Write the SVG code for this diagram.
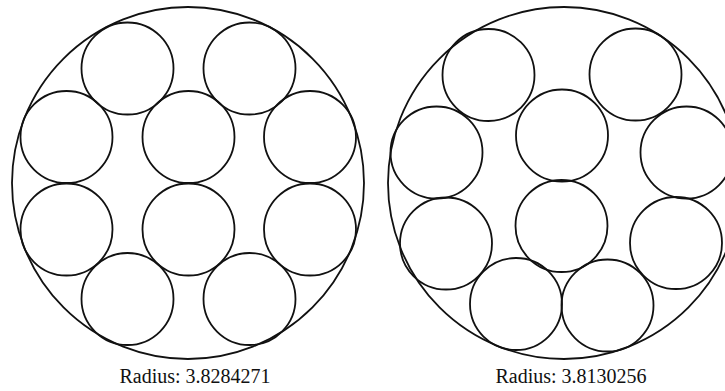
<svg xmlns="http://www.w3.org/2000/svg" width="725" height="391" viewBox="0 0 725 391">
<style>
.c{fill:none;stroke:#111;stroke-width:1.8}
.t{font-family:"Liberation Serif","DejaVu Serif",serif;font-size:20px;fill:#111;text-anchor:middle}
</style>
<rect width="725" height="391" fill="#fff"/>
<g id="packing-left">
<circle class="c" cx="188" cy="183" r="176"/>
<circle class="c" cx="127.5" cy="68.5" r="46"/>
<circle class="c" cx="249.5" cy="68.5" r="46"/>
<circle class="c" cx="66.5" cy="137" r="46"/>
<circle class="c" cx="188.5" cy="137" r="46"/>
<circle class="c" cx="310" cy="137" r="46"/>
<circle class="c" cx="66.5" cy="229.5" r="46"/>
<circle class="c" cx="188.5" cy="229.5" r="46"/>
<circle class="c" cx="310" cy="229.5" r="46"/>
<circle class="c" cx="127.5" cy="299" r="46"/>
<circle class="c" cx="249.5" cy="299" r="46"/>
<text class="t" x="195" y="383">Radius: 3.8284271</text>
</g>
<g id="packing-right">
<circle class="c" cx="564" cy="183" r="176"/>
<circle class="c" cx="488.5" cy="75" r="46"/>
<circle class="c" cx="635.5" cy="74.5" r="46"/>
<circle class="c" cx="436.5" cy="152.5" r="46"/>
<circle class="c" cx="562" cy="135.5" r="46"/>
<circle class="c" cx="686.5" cy="152.5" r="46"/>
<circle class="c" cx="446" cy="243.5" r="46"/>
<circle class="c" cx="561.5" cy="226" r="46"/>
<circle class="c" cx="676" cy="243" r="46"/>
<circle class="c" cx="516" cy="304" r="46"/>
<circle class="c" cx="607.5" cy="305.5" r="46"/>
<text class="t" x="571" y="383">Radius: 3.8130256</text>
</g>
</svg>
